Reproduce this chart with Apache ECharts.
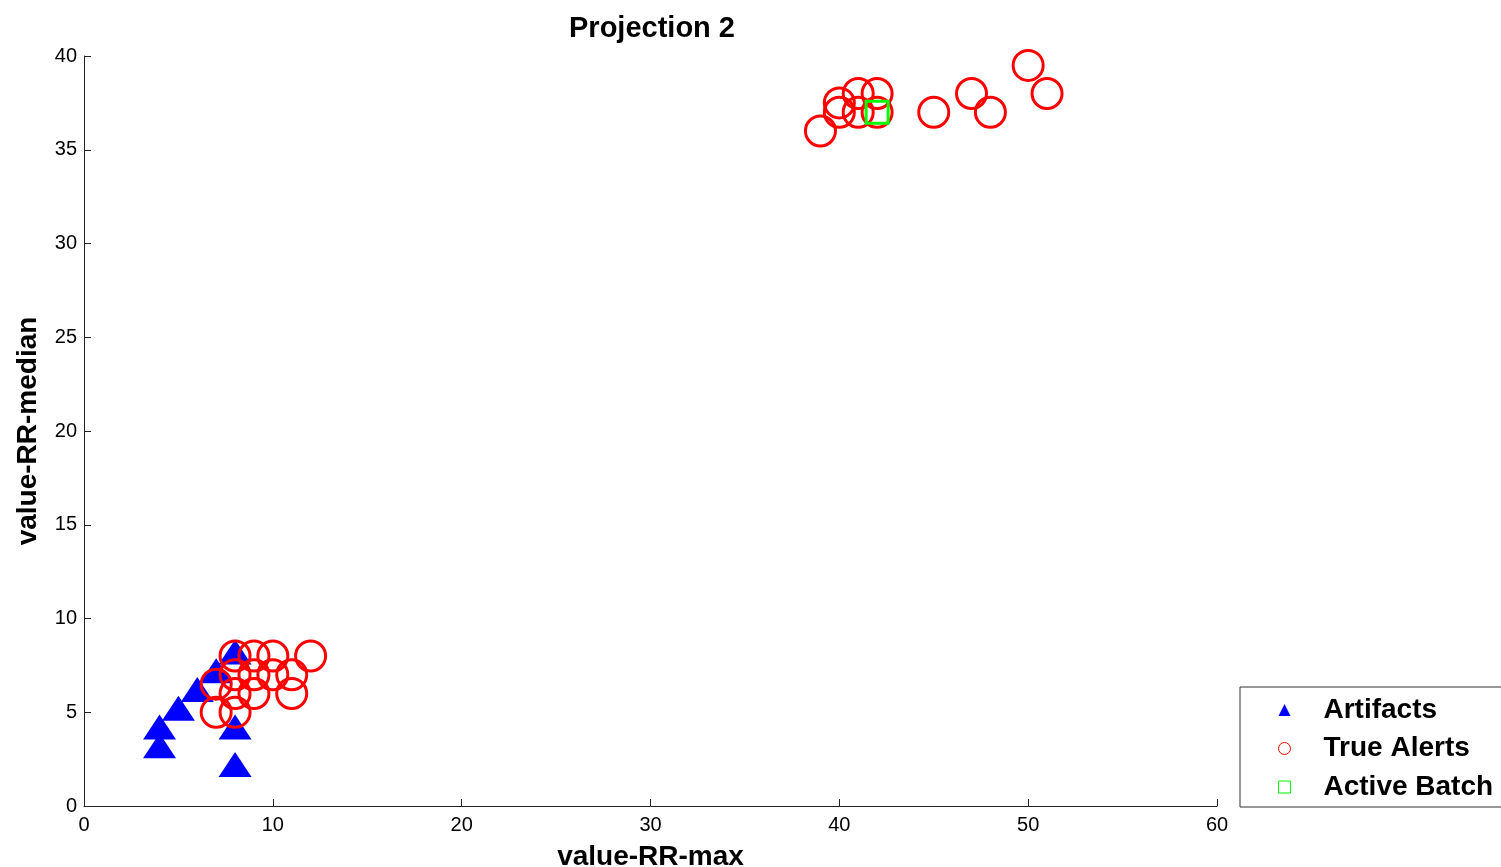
<!DOCTYPE html>
<html>
<head>
<meta charset="utf-8">
<script src="https://cdn.jsdelivr.net/npm/echarts@6/dist/echarts.min.js"></script>
<style>html,body{margin:0;padding:0;background:#fff}#c{width:1501px;height:867px}</style>
</head>
<body>
<div id="c"></div>
<script>
const xTicks = [0, 10, 20, 30, 40, 50, 60];
const yTicks = [0, 5, 10, 15, 20, 25, 30, 35, 40];
const artifactsX = [8, 7, 6, 5, 4, 4, 8, 8];
const artifactsY = [8, 7, 6, 5, 4, 3, 4, 2];
const alertsX = [8, 9, 10, 12, 7, 8, 9, 10, 11, 8, 9, 11, 7, 8,
                 39, 40, 40, 41, 41, 42, 42, 45, 47, 48, 50, 51];
const alertsY = [8, 8, 8, 8, 6.5, 7, 7, 7, 7, 6, 6, 6, 5, 5,
                 36, 37.5, 37, 38, 37, 38, 37, 37, 38, 37, 39.5, 38];
const batchX = [42];
const batchY = [37];
const seriesNames = ['Artifacts', 'True Alerts', 'Active Batch'];

const zip = (a, b) => a.map((v, i) => [v, b[i]]);
const font = "'Liberation Sans', Arial, sans-serif";
const chart = echarts.init(document.getElementById('c'));
chart.setOption({
  animation: false,
  backgroundColor: '#fff',
  title: {
    text: 'Projection 2', left: 647, top: 9, textAlign: 'center',
    textStyle: { fontFamily: font, fontSize: 29, fontWeight: 'bold', color: '#000' }
  },
  grid: { left: 84, right: 284, top: 56, bottom: 61, outerBoundsMode: 'none', containLabel: false },
  xAxis: {
    type: 'value', min: xTicks[0], max: xTicks[xTicks.length - 1], interval: 10,
    name: 'value-RR-max', nameLocation: 'middle', nameGap: 37,
    nameTextStyle: { fontFamily: font, fontSize: 28, fontWeight: 'bold', color: '#000' },
    axisLine: { lineStyle: { color: '#222', width: 1 } },
    axisTick: { inside: true, length: 7, lineStyle: { color: '#222' } },
    axisLabel: { fontFamily: font, fontSize: 20, color: '#000', margin: 9 },
    splitLine: { show: false }
  },
  yAxis: {
    type: 'value', min: yTicks[0], max: yTicks[yTicks.length - 1], interval: 5,
    name: 'value-RR-median', nameLocation: 'middle', nameGap: 42, nameRotate: 90,
    nameTextStyle: { fontFamily: font, fontSize: 28, fontWeight: 'bold', color: '#000' },
    axisLine: { show: true, lineStyle: { color: '#222', width: 1 } },
    axisTick: { show: true, inside: true, length: 7, lineStyle: { color: '#222' } },
    axisLabel: { fontFamily: font, fontSize: 20, color: '#000', margin: 7 },
    splitLine: { show: false }
  },
  legend: {
    orient: 'vertical', left: 1240, top: 687,
    padding: [8, 80, 5, 38],
    borderColor: '#333', borderWidth: 1, backgroundColor: '#fff',
    itemWidth: 12, itemHeight: 12, itemGap: 8.5,
    textStyle: { fontFamily: font, fontSize: 28, fontWeight: 'bold', color: '#000', lineHeight: 30, padding: [0, 0, 0, 28] },
    data: [
      { name: seriesNames[0], icon: 'triangle', itemStyle: { color: '#0000ff', borderWidth: 0 } },
      { name: seriesNames[1], icon: 'circle', itemStyle: { color: 'rgba(0,0,0,0)', borderColor: '#ff0000', borderWidth: 1 } },
      { name: seriesNames[2], icon: 'rect', itemStyle: { color: 'rgba(0,0,0,0)', borderColor: '#00ff00', borderWidth: 1 } }
    ],
    selectedMode: false
  },
  series: [
    {
      name: seriesNames[0], type: 'scatter', symbol: 'triangle', symbolSize: [33, 25], symbolOffset: [0, -4],
      itemStyle: { color: '#0000ff', opacity: 1 },
      data: zip(artifactsX, artifactsY)
    },
    {
      name: seriesNames[1], type: 'scatter', symbol: 'circle', symbolSize: 30,
      itemStyle: { color: 'rgba(0,0,0,0)', borderColor: '#ff0000', borderWidth: 3, opacity: 1 },
      data: zip(alertsX, alertsY)
    },
    {
      name: seriesNames[2], type: 'scatter', symbol: 'rect', symbolSize: 22,
      itemStyle: { color: 'rgba(0,0,0,0)', borderColor: '#00ff00', borderWidth: 3, opacity: 1 },
      data: zip(batchX, batchY)
    }
  ]
});
</script>
</body>
</html>
